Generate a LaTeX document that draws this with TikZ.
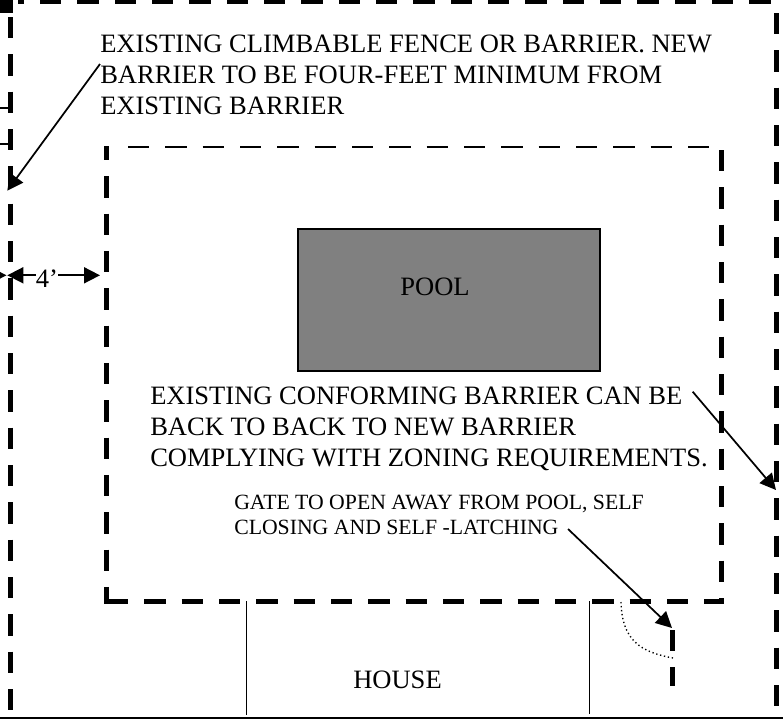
\documentclass[tikz,border=0pt]{standalone}
\usepackage{fontspec}
\setmainfont{Liberation Serif}
\usetikzlibrary{arrows.meta}
\definecolor{poolGray}{HTML}{808080}
\begin{document}
\begin{tikzpicture}[x=0.75pt, y=-0.75pt,
  barrier/.style={line width=3.6pt, dash pattern=on 16pt off 12pt},
  thinbar/.style={line width=1.8pt, dash pattern=on 16pt off 12pt},
  wall/.style={line width=1.1pt},
  leader/.style={-{Triangle[length=12pt, width=12pt]}, line width=1.3pt},
  big/.style={font=\fontsize{19.9}{23.25}\selectfont, align=left, inner sep=0pt},
  small/.style={font=\fontsize{16.3}{18.75}\selectfont, align=left, inner sep=0pt}
]
  \useasboundingbox (0,0) rectangle (783,719);
  \clip (0,0) rectangle (783,719);
  % Outer barrier
  \fill (0,0) rectangle (13,13);
  \fill (18,0) rectangle (23.5,4);
  \draw[barrier] (40,1.5) -- (783,1.5);
  \draw[barrier] (10.5,17) -- (10.5,711);
  \draw[barrier] (776.5,13) -- (776.5,706);
  % Inner barrier
  \draw[thinbar] (128,146.7) -- (710,146.7);
  \draw[barrier, dash phase=5.3pt] (106.7,146) -- (106.7,604);
  \draw[barrier] (721.7,150) -- (721.7,604);
  \draw[barrier] (107,601.5) -- (724,601.5);
  % Ticks
  \draw[wall] (0,108) -- (8,108);
  \draw[wall] (0,144) -- (8,144);
  % Pool
  \node[draw, line width=1.3pt, fill=poolGray, minimum width=226pt, minimum height=106pt,
    inner sep=0pt] (pool) at (449,300) {};
  \node[big, anchor=base] (poollbl) at (435,295) {POOL};
  % House
  \coordinate (houseA) at (246.5,601);
  \coordinate (houseB) at (589.3,601);
  \draw[wall] (houseA) -- (246.5,715);
  \draw[wall] (houseB) -- (589.3,714);
  \draw[line width=1pt] (0,718) -- (783,718);
  \node[big, anchor=base] (house) at (397.5,688) {HOUSE};
  % Gate
  \draw[barrier] (672.7,630) -- (672.7,686.3);
  \draw[dotted, line width=1pt] (621,602) .. controls (622,640) and (640,652) .. (673,658);
  % Notes
  \node[big, anchor=north west] (climb) at (100,34.7) {EXISTING CLIMBABLE FENCE OR BARRIER. NEW\\BARRIER TO BE FOUR-FEET MINIMUM FROM\\EXISTING BARRIER};
  \node[big, anchor=north west] (conform) at (150,386.3) {EXISTING CONFORMING BARRIER CAN BE\\BACK TO BACK TO NEW BARRIER\\COMPLYING WITH ZONING REQUIREMENTS.};
  \node[small, anchor=north west] (gatelbl) at (234,495.3) {GATE TO OPEN AWAY FROM POOL, SELF\\CLOSING AND SELF -LATCHING};
  % Leaders
  \coordinate (climbtip) at (7.3,190.7);
  \coordinate (conftip) at (776,490);
  \coordinate (gatetip) at (672,628);
  \draw[leader] (100,64) -- (climbtip);
  \draw[leader] (692.7,391.7) -- (conftip);
  \draw[leader] (568,529) -- (gatetip);
  % Four feet dimension
  \node[big, anchor=base] (four) at (47,287) {4’};
  \coordinate (dimL) at (7.3,275.3);
  \coordinate (dimR) at (100,275.3);
  \draw[leader] (36,275.3) -- (dimL);
  \draw[leader] (58,275.3) -- (dimR);
  \draw[leader] (-20,275.3) -- (6.5,275.3);
\end{tikzpicture}
\end{document}
